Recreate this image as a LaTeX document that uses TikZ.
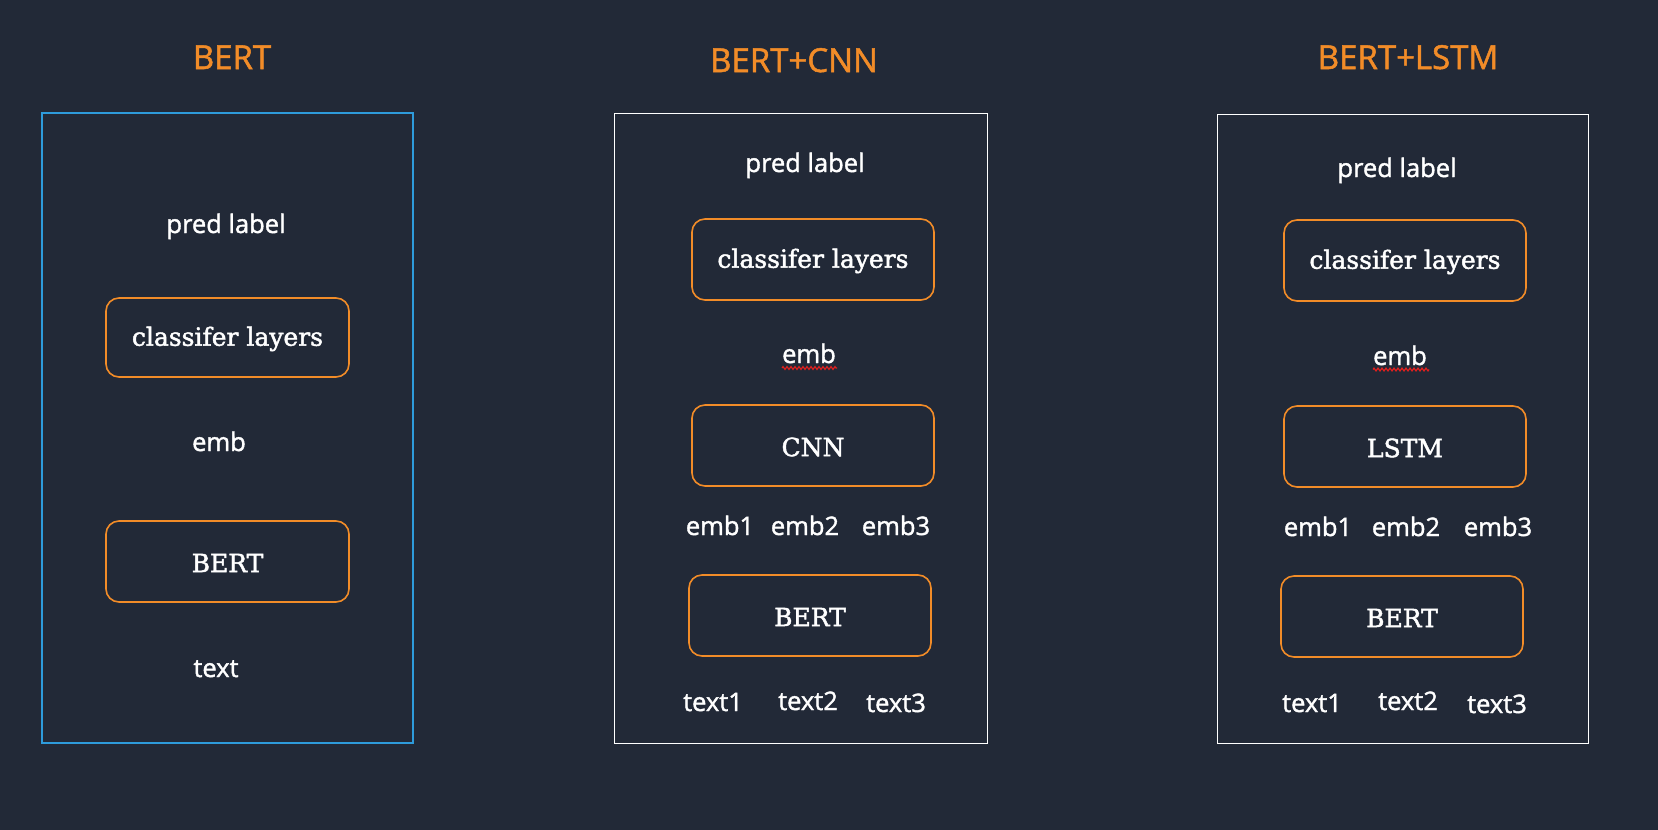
\documentclass[tikz,border=0pt]{standalone}
\usepackage{fontspec}
\setmainfont{Open Sans}
\newfontfamily\lblfont[FakeBold=1.5]{Open Sans}
\newfontfamily\boxfont[FakeBold=1.8]{DejaVu Serif}
\usetikzlibrary{decorations.pathmorphing}
\definecolor{bgc}{HTML}{222937}
\definecolor{orng}{HTML}{F28C28}
\definecolor{bluec}{HTML}{2E9BDB}
\definecolor{squig}{HTML}{E0201E}
\tikzset{
  titletext/.style={anchor=base, text=orng, font=\lblfont\fontsize{33}{36}\selectfont, inner sep=0pt},
  lbl/.style={anchor=base, text=white, font=\lblfont\fontsize{25.5}{28}\selectfont, inner sep=0pt},
  layerbox/.style={draw=orng, line width=1.6pt, rounded corners=13pt},
  boxtext/.style={text=white, font=\boxfont\fontsize{25}{28}\selectfont},
  panel/.style={draw=white, line width=1pt},
  bluepanel/.style={draw=bluec, line width=2pt},
  spell/.style={draw=squig, line width=1.2pt, decorate, decoration={zigzag, segment length=4pt, amplitude=1.4pt}}
}
\begin{document}
\begin{tikzpicture}[x=1pt,y=-1pt]
\fill[bgc] (0,0) rectangle (1658,830);
\useasboundingbox (0,0) rectangle (1658,830);

% ---------- Panel 1: BERT ----------
\node[titletext] (t1) at (232,69) {BERT};
\draw[bluepanel] (42,113) rectangle (413,743);
\node[lbl] (p1pred) at (226,233) {pred label};
\draw[layerbox] (106,298) rectangle (349,377);
\node[boxtext] (p1cls) at (227.5,339) {classifer layers};
\node[lbl] (p1emb) at (219,451) {emb};
\draw[layerbox] (106,521) rectangle (349,602);
\node[boxtext] (p1bert) at (227.5,563) {BERT};
\node[lbl] (p1text) at (216,677) {text};

% ---------- Panel 2: BERT+CNN ----------
\node[titletext] (t2) at (794,72) {BERT+CNN};
\draw[panel] (614,113) rectangle (987,743);
\node[lbl] (p2pred) at (805,172) {pred label};
\draw[layerbox] (692,219) rectangle (934,300);
\node[boxtext] (p2cls) at (813,261) {classifer layers};
\node[lbl] (p2emb) at (809,363) {emb};
\draw[spell] (782,368) -- (837,368);
\draw[layerbox] (692,405) rectangle (934,486);
\node[boxtext] (p2cnn) at (813,447) {CNN};
\node[lbl] (p2e1) at (720,535) {emb1};
\node[lbl] (p2e2) at (805,535) {emb2};
\node[lbl] (p2e3) at (896,535) {emb3};
\draw[layerbox] (689,575) rectangle (931,656);
\node[boxtext] (p2bert) at (810,617) {BERT};
\node[lbl] (p2t1) at (713,711) {text1};
\node[lbl] (p2t2) at (808,710) {text2};
\node[lbl] (p2t3) at (896,712) {text3};

% ---------- Panel 3: BERT+LSTM ----------
\node[titletext] (t3) at (1408,69) {BERT+LSTM};
\draw[panel] (1217,114) rectangle (1588,743);
\node[lbl] (p3pred) at (1397,177) {pred label};
\draw[layerbox] (1284,220) rectangle (1526,301);
\node[boxtext] (p3cls) at (1405,262) {classifer layers};
\node[lbl] (p3emb) at (1400,365) {emb};
\draw[spell] (1373,369.5) -- (1429,369.5);
\draw[layerbox] (1284,406) rectangle (1526,487);
\node[boxtext] (p3lstm) at (1405,448) {LSTM};
\node[lbl] (p3e1) at (1318,536) {emb1};
\node[lbl] (p3e2) at (1406,536) {emb2};
\node[lbl] (p3e3) at (1498,536) {emb3};
\draw[layerbox] (1281,576) rectangle (1523,657);
\node[boxtext] (p3bert) at (1402,618) {BERT};
\node[lbl] (p3t1) at (1312,712) {text1};
\node[lbl] (p3t2) at (1408,710) {text2};
\node[lbl] (p3t3) at (1497,713) {text3};
\end{tikzpicture}
\end{document}
